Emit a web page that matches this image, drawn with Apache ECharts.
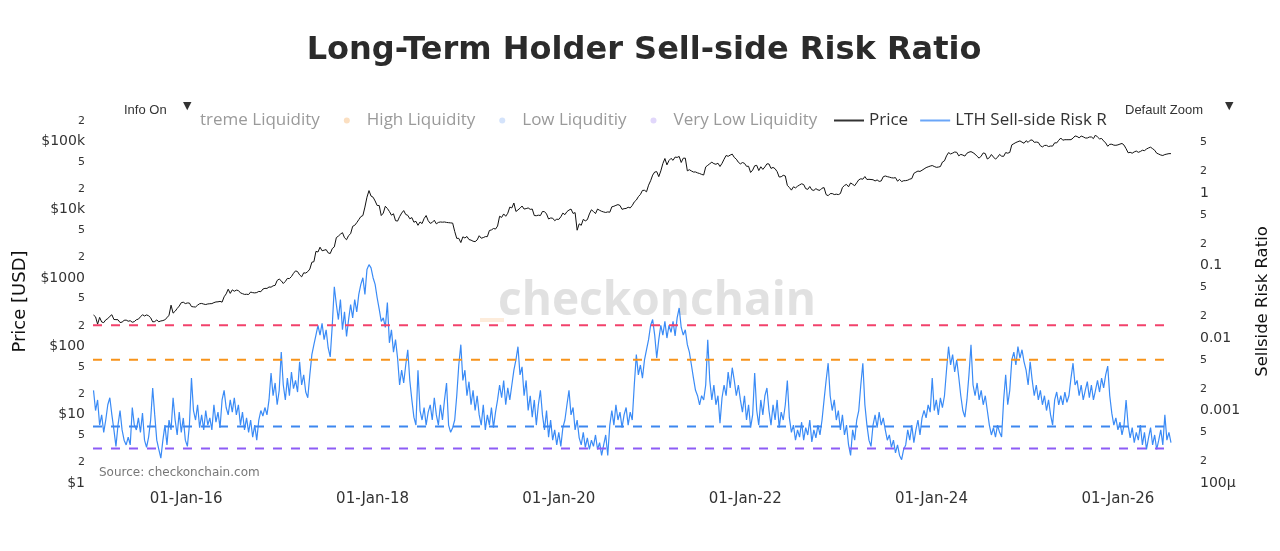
<!DOCTYPE html>
<html>
<head>
<meta charset="utf-8">
<script src="https://cdn.jsdelivr.net/npm/echarts@6/dist/echarts.min.js"></script>
<style>
html,body{margin:0;padding:0;background:#ffffff;}
#chart{width:1280px;height:551px;}
</style>
</head>
<body>
<div id="chart"></div>
<script>
// ---- data ----
const seriesStart = '2015-01-03';
const stepDays = 8;

const price2015 = [287,270,211,265,227,222,244,254,275,290,247,246,245,223,226,240,242,233,237,225,230,245,250,270,290,278,288,280,262,228,230,243,229,235,238,245,262,285,400,306,326,358,388,435,442,422];
const price2016 = [431,430,382,378,376,400,420,424,415,409,417,420,422,436,446,448,455,443,530,585,685,595,670,640,664,655,606,590,575,578,573,623,610,605,612,636,630,688,705,703,738,734,768,780,920,964];
const price2017 = [910,830,890,985,980,1050,1170,1270,1240,1110,1040,1190,1180,1240,1350,1700,1730,2450,2400,2820,2500,2550,2600,2330,2280,2690,2850,3900,4100,4380,4600,3880,3630,4170,4450,5700,5900,6450,7140,7900,8200,10900,15200,19000,15800];
const price2018 = [15200,13400,11500,11500,8200,8900,11200,10400,9400,8300,8700,6900,6800,7900,8900,9700,8500,8250,7350,7650,6550,6750,5900,6600,6250,7400,8200,6900,6300,6500,7000,6200,6500,6600,6550,6600,6500,6450,6400,6350,4800,3800,3800,3300,4000,3850];
const price2019 = [4050,3650,3580,3450,3400,3600,4150,3820,3900,4030,4030,4950,5050,5300,5200,5750,8000,7700,8650,8000,8850,10900,10600,12500,9400,9900,10500,11300,10200,10350,10600,10100,10200,8200,8150,8300,8200,9400,9350,8650,7300,7550,7500,6900,7250,7200];
const price2020 = [7850,8900,8450,9350,9850,10200,8800,9050,5000,6200,5900,7200,6850,7130,8650,9950,9380,8750,10200,9780,9450,9250,9090,9270,9170,11000,11200,11550,11850,11500,10100,10330,10420,10840,10600,11500,12980,13800,15480,16700,19100,19200,18250,22800,26500];
const price2021 = [32000,35500,36000,30400,36900,47200,56000,45200,52300,56300,52700,58800,58100,60000,49000,56600,56700,37000,38400,36800,35500,35600,34500,33800,32800,32100,42200,44500,47000,49500,47100,46100,47800,42800,47600,54700,62000,60300,62900,64900,58100,54800,49400,46700,48900,47600];
const price2022 = [43100,43100,35000,37900,43800,44500,37300,42400,38800,42200,46800,46600,40100,41500,39700,36000,30000,30300,31800,31100,22600,21100,19300,21600,20800,22000,23000,23900,23300,20300,19800,21800,19500,19100,20300,19400,19200,20600,21000,16600,16000,17150,17200,16630,16840,16600];
const price2023 = [17200,21100,22600,23400,21600,24600,23500,22400,24700,27300,28300,27900,30500,27600,27800,27600,27400,26300,27200,25900,26300,30300,31100,30400,29900,29300,29050,29400,26100,27700,25750,26500,26580,26970,27930,28500,33900,35400,36700,36200,37700,39400,41200,42300,43400];
const price2024 = [44200,42800,41600,42000,42700,49700,51800,61200,68300,65300,67200,69700,69100,61300,64300,62900,60800,66900,69400,70600,68200,64900,60300,56700,60800,67600,66200,55100,57600,64100,58900,54900,58200,64300,60600,60300,68400,67000,68700,88700,92300,96000,98800,101400,97200,93700];
const price2025 = [102100,96500,103700,104700,96600,97500,96300,86100,82800,86900,87200,83800,85300,85100,95000,94700,103500,111700,103800,105600,105500,105500,105700,111300,119800,117600,112500,119300,116300,111800,111700,115500,115700,109600,123500,115300,108500,110000,101300,94500,84600,90400,90600,87800,87400,88700];
const price2026 = [91000,93000,88000,78000,68000,69000,67000,70000,72000,69000,71000,74000,73000,77000,80000,82000,78000,74000,67000,65000,63000,62000,64000,65000,66000,66000];

const lthRisk = [
0.0019,0.001,0.0014,0.00063,0.00087,0.0005,0.00074,0.0012,0.0015,0.00087,0.00054,0.00032,0.00063,0.001,0.00054,0.00039,0.000335,0.00043,0.000335,0.0011,0.00063,0.00054,0.00079,0.0005,0.00092,
0.00039,0.00031,0.00043,0.00074,0.00205,0.00087,0.00039,0.00029,0.00022,0.00039,0.00063,0.000335,0.00074,0.00054,0.0015,0.00074,0.00046,0.00095,0.0005,0.00079,0.00039,0.00032,0.00063,0.0028,0.001,
0.00074,0.0012,0.00058,0.00087,0.00054,0.001,0.00063,0.00079,0.00054,0.0012,0.00069,0.00095,0.00058,0.0014,0.0019,0.0011,0.00087,0.0014,0.00095,0.0015,0.00087,0.0012,0.00063,0.00095,0.00054,
0.00079,0.0005,0.00074,0.00043,0.00063,0.00039,0.00074,0.001,0.00084,0.0011,0.00087,0.0014,0.0033,0.0016,0.0024,0.0012,0.0019,0.0064,0.00225,0.0014,0.0028,0.0016,0.0034,0.002,0.0026,
0.0018,0.0047,0.00225,0.0031,0.0018,0.0015,0.0031,0.0059,0.0081,0.011,0.015,0.011,0.016,0.0095,0.013,0.0073,0.0055,0.015,0.051,0.029,0.018,0.034,0.013,0.023,0.0105,
0.018,0.029,0.019,0.034,0.023,0.04,0.055,0.068,0.04,0.088,0.103,0.093,0.068,0.055,0.036,0.025,0.017,0.019,0.014,0.031,0.0086,0.013,0.0064,0.0095,0.0053,
0.00225,0.0036,0.0024,0.00425,0.0069,0.0026,0.0014,0.00081,0.00063,0.0036,0.001,0.00074,0.0011,0.00063,0.00095,0.0012,0.00074,0.0015,0.00087,0.00063,0.0012,0.00074,0.0014,0.0024,0.00063,
0.0005,0.00058,0.00074,0.0016,0.00425,0.0081,0.0026,0.0036,0.0016,0.0025,0.0012,0.0019,0.001,0.0016,0.00087,0.00063,0.0012,0.00054,0.00087,0.00063,0.0011,0.00058,0.00095,0.0014,0.00225,
0.0015,0.0026,0.0012,0.00205,0.0014,0.00225,0.0036,0.005,0.0076,0.0031,0.004,0.0016,0.0026,0.001,0.0016,0.00081,0.0014,0.00063,0.0012,0.0019,0.00087,0.00054,0.001,0.00043,0.00074,
0.00039,0.00054,0.000335,0.0005,0.00032,0.00058,0.00074,0.0012,0.0019,0.00087,0.0011,0.00054,0.00074,0.00042,0.000335,0.0005,0.00031,0.00042,0.00029,0.00039,0.00032,0.00046,0.00029,0.00036,0.00024,
0.000335,0.00046,0.00024,0.00063,0.001,0.00063,0.0012,0.00074,0.00095,0.00058,0.00087,0.0011,0.00063,0.00095,0.00074,0.00225,0.0059,0.0031,0.00425,0.0028,0.005,0.0069,0.0095,0.015,0.018,
0.011,0.0053,0.0095,0.015,0.011,0.017,0.01,0.015,0.012,0.017,0.0107,0.019,0.026,0.014,0.011,0.013,0.0081,0.0064,0.00425,0.0028,0.0019,0.0016,0.0012,0.0016,0.0014,
0.00225,0.0095,0.0026,0.0014,0.00225,0.0012,0.0016,0.00067,0.0015,0.00225,0.0016,0.0034,0.00205,0.0039,0.0026,0.0016,0.00225,0.0014,0.00095,0.0016,0.00074,0.0012,0.00058,0.00087,0.0033,
0.001,0.00063,0.0014,0.00087,0.0016,0.00205,0.001,0.00063,0.0012,0.00074,0.0014,0.00058,0.00095,0.00074,0.0012,0.0026,0.00079,0.0005,0.00063,0.00039,0.00054,0.00043,0.00069,0.00039,0.00058,
0.00046,0.00074,0.00037,0.00054,0.00042,0.00063,0.00046,0.00074,0.0014,0.0026,0.0045,0.0016,0.001,0.0014,0.00074,0.001,0.00054,0.00087,0.00046,0.00063,0.000335,0.00024,0.00054,0.00039,0.00074,
0.001,0.00225,0.0045,0.0012,0.00063,0.00039,0.00032,0.00063,0.00087,0.00058,0.00095,0.00063,0.00079,0.00054,0.00039,0.00046,0.00031,0.00039,0.00026,0.000335,0.00024,0.00021,0.00029,0.000335,0.00054,
0.00039,0.00063,0.00036,0.00054,0.00074,0.00046,0.00079,0.001,0.00079,0.0012,0.00095,0.0028,0.001,0.0014,0.00087,0.0015,0.0011,0.0016,0.0036,0.0076,0.00425,0.0059,0.0034,0.005,0.0029,
0.0016,0.001,0.00081,0.0014,0.0031,0.0081,0.00225,0.0016,0.0024,0.0014,0.0019,0.0012,0.0016,0.001,0.00063,0.00046,0.00058,0.00043,0.00063,0.0005,0.00043,0.0014,0.0031,0.0012,0.0019,
0.005,0.0064,0.00425,0.0076,0.0053,0.0069,0.0047,0.0036,0.00225,0.0047,0.0026,0.0016,0.00225,0.0014,0.0019,0.0012,0.0016,0.001,0.0014,0.00087,0.00063,0.0014,0.0018,0.0012,0.0016,
0.0012,0.0018,0.0013,0.0016,0.0028,0.0045,0.00225,0.0026,0.0016,0.00225,0.0014,0.0019,0.0025,0.0015,0.00225,0.0014,0.0019,0.0026,0.0018,0.0028,0.00205,0.0031,0.0041,0.0016,0.00092,
0.00063,0.00079,0.00054,0.00069,0.00046,0.00063,0.0014,0.00063,0.00042,0.00058,0.00036,0.0005,0.00039,0.00063,0.000335,0.0005,0.00029,0.00042,0.00058,0.000335,0.00046,0.00029,0.00039,0.00054,0.000335,0.00087,0.00039,0.0005,0.00036
];

const liquidityNames = ['treme Liquidity', 'High Liquidity', 'Low Liquditiy', 'Very Low Liquidity'];
const liquidityLevels = [0.015, 0.005, 0.0006, 0.0003];
const liquiditySpan = ['2015-01-01', '2026-07-03'];
const xRange = ['2015-01-01', '2026-08-01'];
const xTickDates = ['2016-01-01', '2018-01-01', '2020-01-01', '2022-01-01', '2024-01-01', '2026-01-01'];
const priceTicks = [1,2,5,10,20,50,100,200,500,1000,2000,5000,10000,20000,50000,100000,200000];
const riskTicks = [0.0001,0.0002,0.0005,0.001,0.002,0.005,0.01,0.02,0.05,0.1,0.2,0.5,1,2,5];
const priceMainLabels = {0:'$1', 1:'$10', 2:'$100', 3:'$1000', 4:'$10k', 5:'$100k'};
const riskMainLabels = {'-4':'100μ', '-3':'0.001', '-2':'0.01', '-1':'0.1', '0':'1'};

// ---- styles ----
const liquidityColors = ['#f2426b', '#f7931a', '#3d87f0', '#8d5cf6'];
const liquidityLegendColors = ['rgba(255,255,255,0)', '#fbdfc1', '#d4e3fb', '#e1d7fb'];
const priceColor = '#111111';
const riskColor = '#3a8bf6';

// ---- build ----
const priceUSD = [].concat(price2015, price2016, price2017, price2018, price2019, price2020,
  price2021, price2022, price2023, price2024, price2025, price2026);
const t0 = Date.parse(seriesStart);
const dayMs = 86400000;
const dates = [];
const nPts = Math.max(priceUSD.length, lthRisk.length);
for (let i = 0; i < nPts; i++) dates.push(t0 + i * stepDays * dayMs);
const priceData = priceUSD.map((v, i) => [dates[i], v]);
const riskData = lthRisk.map((v, i) => [dates[i], v]);

function splitLog(v) {
  const e = Math.floor(Math.log10(v) + 1e-9);
  const m = Math.round(v / Math.pow(10, e));
  return [m, e];
}
const MONTHS = ['Jan','Feb','Mar','Apr','May','Jun','Jul','Aug','Sep','Oct','Nov','Dec'];
function fmtDate(v) {
  const d = new Date(v);
  const dd = String(d.getUTCDate()).padStart(2, '0');
  const yy = String(d.getUTCFullYear() % 100).padStart(2, '0');
  return dd + '-' + MONTHS[d.getUTCMonth()] + '-' + yy;
}

const axisFont = 'DejaVu Sans';
const chart = echarts.init(document.getElementById('chart'), null, {renderer: 'canvas'});

const liquiditySeries = liquidityNames.map((n, k) => ({
  name: n,
  type: 'line',
  yAxisIndex: 1,
  showSymbol: false,
  silent: true,
  z: 5,
  data: liquiditySpan.map(d => [Date.parse(d), liquidityLevels[k]]),
  lineStyle: {color: liquidityColors[k], width: 2, type: [9, 9]},
  itemStyle: {color: liquidityColors[k]}
}));

chart.setOption({
  animation: false,
  backgroundColor: '#ffffff',
  title: {
    text: 'Long-Term Holder Sell-side Risk Ratio',
    left: 644, top: 35, textAlign: 'center', padding: 0,
    textStyle: {fontFamily: axisFont, fontWeight: 'bold', fontSize: 32, color: '#2b2b2b'}
  },
  legend: [
    {
      left: 177, top: 112, padding: 0, orient: 'horizontal',
      itemWidth: 30, itemHeight: 6, itemGap: 24, icon: 'circle', selectedMode: false,
      textStyle: {fontFamily: 'Open Sans', fontSize: 17, color: '#9a9a9a'},
      data: liquidityNames.map((n, k) => ({name: n, itemStyle: {color: liquidityLegendColors[k], borderWidth: 0}}))
    },
    {
      left: 834, top: 112, padding: 0, orient: 'horizontal',
      itemWidth: 30, itemHeight: 2, itemGap: 12, icon: 'rect', selectedMode: false,
      textStyle: {fontFamily: 'Open Sans', fontSize: 17, color: '#333333'},
      data: [
        {name: 'Price', itemStyle: {color: '#333333', borderWidth: 0}},
        {name: 'LTH Sell-side Risk R', itemStyle: {color: '#6aa6f8', borderWidth: 0}}
      ]
    }
  ],
  grid: {left: 93, right: 108, top: 120, bottom: 68, containLabel: false, outerBoundsMode: 'none'},
  xAxis: {
    type: 'value',
    min: Date.parse(xRange[0]),
    max: Date.parse(xRange[1]),
    axisLine: {show: false}, axisTick: {show: false}, splitLine: {show: false},
    axisLabel: {
      customValues: xTickDates.map(d => Date.parse(d)),
      formatter: fmtDate,
      fontFamily: axisFont, fontSize: 15, color: '#333333', margin: 9
    }
  },
  yAxis: [
    {
      type: 'log', logBase: 10, min: 1, max: 205000, position: 'left',
      axisLine: {show: false}, axisTick: {show: false}, splitLine: {show: false},
      axisLabel: {
        customValues: priceTicks,
        margin: 8,
        formatter: v => { const [m, e] = splitLog(v); return m === 1 ? '{b|' + priceMainLabels[e] + '}' : '{s|' + m + '}'; },
        rich: {
          b: {fontFamily: axisFont, fontSize: 14, color: '#333333'},
          s: {fontFamily: axisFont, fontSize: 11, color: '#333333'}
        }
      },
      name: 'Price [USD]', nameLocation: 'middle', nameRotate: 90, nameGap: 63,
      nameTextStyle: {fontFamily: axisFont, fontSize: 18, color: '#111111'}
    },
    {
      type: 'log', logBase: 10, min: 0.0001, max: 10.2, position: 'right',
      axisLine: {show: false}, axisTick: {show: false}, splitLine: {show: false},
      axisLabel: {
        customValues: riskTicks,
        margin: 28,
        formatter: v => { const [m, e] = splitLog(v); return m === 1 ? '{b|' + riskMainLabels[String(e)] + '}' : '{s|' + m + '}'; },
        rich: {
          b: {fontFamily: axisFont, fontSize: 14, color: '#333333'},
          s: {fontFamily: axisFont, fontSize: 11, color: '#333333'}
        }
      },
      name: 'Sellside Risk Ratio', nameLocation: 'middle', nameRotate: 90, nameGap: 82,
      nameTextStyle: {fontFamily: axisFont, fontSize: 16.5, color: '#111111'}
    }
  ],
  graphic: [
    {type: 'text', left: 124, top: 104, silent: true,
     style: {text: 'Info On', font: '13px "Liberation Sans"', fill: '#333333'}},
    {type: 'text', left: 183, top: 101, silent: true,
     style: {text: '▼', font: '11px "DejaVu Sans"', fill: '#333333'}},
    {type: 'text', left: 1125, top: 104, silent: true,
     style: {text: 'Default Zoom', font: '13px "Liberation Sans"', fill: '#333333'}},
    {type: 'text', left: 1225, top: 101, silent: true,
     style: {text: '▼', font: '11px "DejaVu Sans"', fill: '#333333'}},
    {type: 'text', left: 99, top: 467, silent: true,
     style: {text: 'Source: checkonchain.com', font: '12px "DejaVu Sans"', fill: '#777777'}},
    {type: 'text', x: 657, y: 302, z: -1, silent: true,
     style: {text: 'checkonchain', font: 'bold 46px "Open Sans"', fill: 'rgba(205,205,205,0.6)', textAlign: 'center', textVerticalAlign: 'middle'}},
    {type: 'rect', z: -1, silent: true, shape: {x: 480, y: 318, width: 24, height: 4},
     style: {fill: 'rgba(247,180,110,0.25)'}}
  ],
  series: [
    {
      name: 'Price', type: 'line', yAxisIndex: 0, showSymbol: false, silent: true, z: 3,
      data: priceData,
      lineStyle: {color: priceColor, width: 1},
      itemStyle: {color: priceColor}
    },
    {
      name: 'LTH Sell-side Risk R', type: 'line', yAxisIndex: 1, showSymbol: false, silent: true, z: 4,
      data: riskData,
      lineStyle: {color: riskColor, width: 1.2},
      itemStyle: {color: riskColor}
    }
  ].concat(liquiditySeries)
});
</script>
</body>
</html>
